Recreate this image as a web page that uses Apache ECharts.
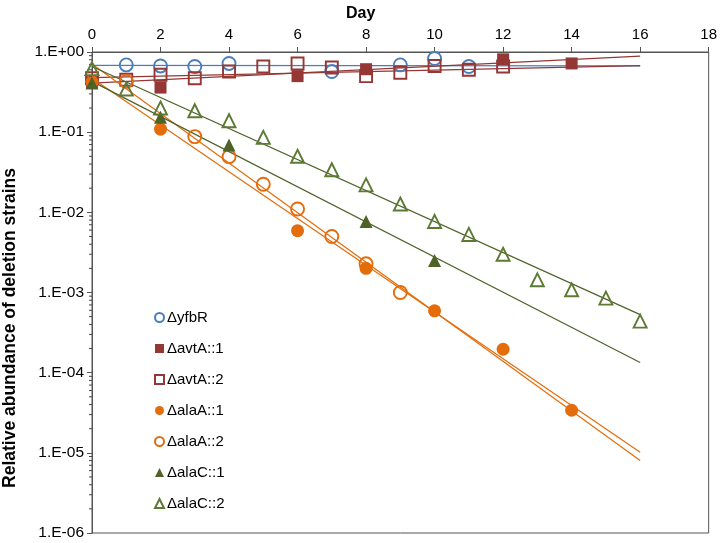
<!DOCTYPE html>
<html>
<head>
<meta charset="utf-8">
<script src="https://cdn.jsdelivr.net/npm/echarts@6/dist/echarts.min.js"></script>
<style>html,body{margin:0;padding:0;background:#fff;}#c{width:720px;height:543px;}</style>
</head>
<body>
<div id="c"></div>
<script>
// ---- data ----
const seriesNames = ['\u0394yfbR', '\u0394avtA::1', '\u0394avtA::2', '\u0394alaA::1', '\u0394alaA::2', '\u0394alaC::1', '\u0394alaC::2'];

const yfbR_days = [1, 2, 3, 4, 7, 9, 10, 11];
const yfbR_vals = [0.69, 0.67, 0.66, 0.72, 0.57, 0.69, 0.83, 0.66];

const avtA1_days = [0, 2, 6, 8, 12, 14];
const avtA1_vals = [0.42, 0.36, 0.50, 0.61, 0.81, 0.72];

const avtA2_days = [0, 1, 2, 3, 4, 5, 6, 7, 8, 9, 10, 11, 12];
const avtA2_vals = [0.47, 0.45, 0.52, 0.47, 0.57, 0.66, 0.72, 0.64, 0.50, 0.55, 0.67, 0.60, 0.66];

const alaA1_days = [0, 2, 6, 8, 10, 12, 14];
const alaA1_vals = [0.42, 0.109, 0.0059, 0.0020, 0.00059, 0.000196, 0.000034];

const alaA2_days = [1, 3, 4, 5, 6, 7, 8, 9];
const alaA2_vals = [0.43, 0.088, 0.0495, 0.0224, 0.011, 0.005, 0.00228, 0.001];

const alaC1_days = [0, 2, 4, 8, 10];
const alaC1_vals = [0.41, 0.153, 0.069, 0.0077, 0.0025];

const alaC2_days = [0, 1, 2, 3, 4, 5, 6, 7, 8, 9, 10, 11, 12, 13, 14, 15, 16];
const alaC2_vals = [0.62, 0.345, 0.2, 0.185, 0.139, 0.086, 0.050, 0.034, 0.022, 0.0127, 0.0077, 0.0053, 0.0030, 0.00144, 0.00108, 0.00085, 0.00044];

// exponential trendlines (straight on log axis): value at first and last day
const trendDays  = [0, 16];
const trendStart = [0.68, 0.41, 0.48, 0.47, 0.71, 0.43, 0.66];
const trendEnd   = [0.67, 0.89, 0.675, 1.02e-5, 8.0e-6, 1.34e-4, 5.3e-4];

const xTicks = [0, 2, 4, 6, 8, 10, 12, 14, 16, 18];
const yTickLabels = ['1.E-06', '1.E-05', '1.E-04', '1.E-03', '1.E-02', '1.E-01', '1.E+00'];
const yMinorMantissas = [2, 3, 4, 5, 6, 7, 8, 9];
const yDecades = [-6, -5, -4, -3, -2, -1];

// ---- styling ----
const FONT = 'Liberation Sans, Arial, sans-serif';
const cBlue = '#4A7EBB', cRed = '#953735', cOrange = '#E46C0A', cGreen = '#4F6228';
const markerDefs = [
  {days: yfbR_days, vals: yfbR_vals, color: cBlue, symbol: 'circle', open: true, size: 13},
  {days: avtA1_days, vals: avtA1_vals, color: cRed, symbol: 'rect', open: false, size: 12},
  {days: avtA2_days, vals: avtA2_vals, color: cRed, symbol: 'rect', open: true, size: 12},
  {days: alaA1_days, vals: alaA1_vals, color: cOrange, symbol: 'circle', open: false, size: 13},
  {days: alaA2_days, vals: alaA2_vals, color: cOrange, symbol: 'circle', open: true, size: 13},
  {days: alaC1_days, vals: alaC1_vals, color: cGreen, symbol: 'triangle', open: false, size: 13},
  {days: alaC2_days, vals: alaC2_vals, color: '#5C7A34', symbol: 'triangle', open: true, size: 13}
];
const lineColors = [cBlue, cRed, cRed, cOrange, cOrange, cGreen, cGreen];

const series = [];
// trendlines
seriesNames.forEach((n, i) => {
  series.push({
    name: n + ' trend', type: 'line', silent: true, symbol: 'none', z: 3,
    data: [[trendDays[0], trendStart[i]], [trendDays[1], trendEnd[i]]],
    lineStyle: {color: lineColors[i], width: 1.2}
  });
});
// markers
markerDefs.forEach((d, i) => {
  series.push({
    name: seriesNames[i], type: 'scatter', z: 4 + i,
    symbol: d.symbol, symbolSize: d.size,
    data: d.days.map((x, k) => [x, d.vals[k]]),
    itemStyle: d.open ? {color: 'rgba(255,255,255,0)', borderColor: d.color, borderWidth: 1.9, opacity: 1}
                      : {color: d.color, borderColor: d.color, borderWidth: 0, opacity: 1}
  });
});
// log minor ticks on the left axis
const minorVals = [];
yDecades.forEach(e => yMinorMantissas.forEach(m => minorVals.push([0, m * Math.pow(10, e)])));
series.push({
  type: 'custom', silent: true, z: 10, clip: false,
  data: minorVals,
  renderItem: function (params, api) {
    const p = api.coord([api.value(0), api.value(1)]);
    return {type: 'line', shape: {x1: p[0] - 3, y1: p[1], x2: p[0], y2: p[1]},
            style: {stroke: '#444', lineWidth: 1}};
  }
});

const chart = echarts.init(document.getElementById('c'), null, {renderer: 'canvas'});
chart.setOption({
  backgroundColor: '#fff',
  animation: false,
  textStyle: {fontFamily: FONT},
  grid: {left: 92, right: 11, top: 52, bottom: 10, show: true, borderColor: '#555', borderWidth: 1, containLabel: false},
  title: {text: 'Day', left: 341, top: 1, textStyle: {fontFamily: FONT, fontSize: 16, fontWeight: 'bold', color: '#000'}},
  graphic: [{
    type: 'text', x: 10, y: 328, rotation: Math.PI / 2,
    style: {text: 'Relative abundance of deletion strains', font: 'bold 17.5px ' + FONT, fill: '#000', align: 'center', verticalAlign: 'middle'}
  }],
  legend: {
    orient: 'vertical', left: 149, top: 305, itemGap: 16, itemWidth: 9, itemHeight: 9,
    data: seriesNames,
    textStyle: {fontFamily: FONT, fontSize: 15, color: '#000', padding: [0, 0, 0, -2]}
  },
  xAxis: {
    type: 'value', position: 'top', min: xTicks[0], max: xTicks[xTicks.length - 1], interval: 2,
    axisLine: {show: true, lineStyle: {color: '#555', width: 1}},
    axisTick: {show: true, length: 5, lineStyle: {color: '#555'}},
    axisLabel: {margin: 10, fontSize: 15, color: '#000', fontFamily: FONT},
    splitLine: {show: false}
  },
  yAxis: {
    type: 'log', logBase: 10, min: 1e-6, max: 1,
    axisLine: {show: true, lineStyle: {color: '#555', width: 1}},
    axisTick: {show: true, length: 5, lineStyle: {color: '#555'}},
    axisLabel: {margin: 8, fontSize: 15.5, color: '#000', fontFamily: FONT,
      formatter: function (v) { const e = Math.round(Math.log10(v)); return yTickLabels[e + 6]; }},
    splitLine: {show: false}
  },
  series: series
});
</script>
</body>
</html>
